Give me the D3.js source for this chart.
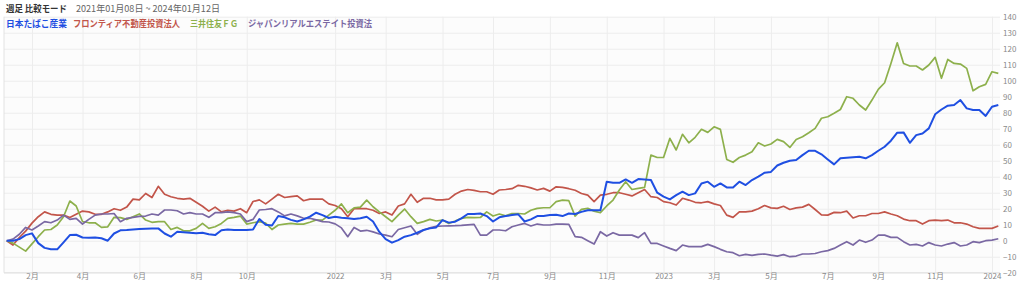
<!DOCTYPE html>
<html>
<head>
<meta charset="utf-8">
<script src="https://cdn.jsdelivr.net/npm/d3@7"></script>
<style>
    body { margin: 0; background: #fff; }
    svg { display: block; font-family: "Noto Sans CJK JP", "Noto Sans", sans-serif; }
</style>
</head>
<body>
<div class="chart"></div>
<script>
// weekly closes, % change vs first week
const startDate = "2021-01-08";
const endDate = "2024-01-12";

const seriesNames = ["日本たばこ産業", "フロンティア不動産投資法人", "三井住友ＦＧ", "ジャパンリアルエステイト投資法"];
const seriesColors = ["#1f4fe2", "#c2554a", "#8db04c", "#7a68a3"];

const jt = [
    0, 0, 1, 3.5, 4.6, -1.5, -4.5, -5.4, -5.4, -1,
    3.5, 3.7, 2, 1.8, 2, 1.5, 0, 4.5, 6.5, 6.7,
    7, 7.3, 7.5, 7.7, 7.7, 4.5, 2.5, 5.6, 5.3, 5,
    4.6, 5, 4, 3.5, 6.5, 7, 6.7, 6.7, 6.7, 7,
    13.5, 10, 9.5, 15.4, 14.6, 13, 12, 13.3, 15, 17.5,
    16, 14.2, 15, 14.4, 14, 13.5, 14, 15, 12, 5.5,
    1, -1.2, 0.4, 2.5, 3.5, 5, 6.7, 7.7, 8.3, 12.9,
    11.3, 11.9, 14, 16.7, 16.7, 17, 15.4, 12, 14.6, 15.4,
    16, 16.5, 12, 13.3, 15.4, 15.4, 16, 16.2, 15.4, 17,
    16.7, 18, 19, 19, 19, 36.9, 36.2, 36.2, 38.3, 36.2,
    38.5, 38.3, 37.9, 30, 27.5, 25.8, 28.5, 30.6, 28.5, 29.6,
    35.8, 36.9, 33.7, 35.8, 33.3, 33.3, 36.9, 34.8, 37.9, 40,
    42.5, 43, 47, 48.7, 50, 50.4, 53.5, 56.2, 56.2, 54,
    50.8, 47.7, 51.5, 51.9, 52.2, 52.5, 51.5, 53.5, 56.2, 58.7,
    62.5, 67.5, 67.7, 61.2, 66, 67, 70.2, 79, 82, 84.4,
    84.8, 87.9, 82.7, 81.7, 81.7, 78, 83.7, 84.8
];

const frontier = [
    0, -2.7, 2, 6, 11, 15, 18, 16.5, 16, 16,
    14.5, 16.5, 18.5, 18, 16.5, 16.5, 18, 20, 19, 21,
    26, 25.5, 29.5, 27, 34, 29, 27.5, 26.5, 26, 26.5,
    24, 21.5, 18.5, 21, 18, 19, 18.5, 20, 17.5, 24.5,
    25.5, 23, 26, 29, 27, 27.5, 28, 25, 26, 26,
    26, 23, 22, 20, 15, 20, 20, 20, 19, 17,
    18, 16, 21.7, 23, 29, 24, 26.5, 26.5, 25.5, 25.5,
    26, 29, 31, 32, 31.5, 30.6, 30.6, 29, 31.7, 32,
    32.5, 34.6, 34, 33, 31.7, 32.7, 31, 33.7, 33.3, 32.5,
    31.5, 29.5, 28.5, 24.4, 28.5, 29, 30, 30, 29, 28,
    30, 32, 27.5, 27, 24.4, 23.7, 22.3, 26.5, 25.4, 24,
    23.7, 24.4, 23, 22, 16, 14.6, 18, 18, 18.5, 20,
    22, 20.5, 20.2, 21.5, 19.5, 20.5, 21, 22.7, 19.5, 16.2,
    16, 17.7, 17.5, 18.5, 14.2, 15.6, 15.6, 17, 17, 18,
    16.7, 15.6, 13.5, 12.5, 12.5, 10.4, 12.5, 12.9, 12.5, 12.9,
    11.2, 11.2, 10.4, 8.7, 7.7, 7.7, 7.7, 9.2
];

const smfg = [
    0, -1.5, -4, -6.5, -2, 2.5, 6.7, 7, 9.8, 15,
    24.8, 21.7, 12, 11.2, 11.2, 8.3, 8.7, 14.6, 14.4, 13.3,
    15, 16.7, 12.9, 11.5, 11.9, 11.9, 7, 8.3, 6.2, 6.2,
    7.7, 10.8, 7.7, 8.7, 10.8, 14, 14.6, 15.4, 10.4, 11.2,
    11.9, 11, 7, 9.8, 10.4, 10.8, 10.4, 10.4, 11.5, 12.9,
    12.9, 16, 19, 23, 17.5, 20.5, 21, 25.4, 21.2, 18,
    15, 11.9, 16, 19.8, 15, 10.8, 11.9, 13.3, 12.3, 12.9,
    10.8, 12.3, 14, 14.6, 14.4, 14.5, 18, 15.4, 16.7, 15.5,
    17, 17, 16.7, 19, 20.2, 20.6, 20.6, 24.4, 25.4, 25,
    15.4, 19.6, 20.2, 18.5, 17.5, 21.7, 25.4, 31.7, 36.9, 32,
    32.7, 33.3, 53.5, 52, 52, 64, 56.7, 66.5, 61.2, 64.6,
    69.6, 67.7, 71.2, 69.6, 50.8, 49, 52, 53.5, 55.6, 61.2,
    59.2, 60.4, 63.3, 61.9, 58.3, 63.3, 65, 67.5, 70.2, 76.5,
    77.5, 79.6, 82, 90, 89, 84.8, 81.7, 87.9, 94.6, 98.7,
    110.8, 123.7, 110.8, 109.2, 109.2, 106.7, 109.8, 114.6, 101.5, 113.3,
    110.8, 110.4, 107.7, 93.7, 96.2, 97.7, 105.6, 104.6
];

const jre = [
    0, 1, 4, 8.3, 6.7, 9.2, 11.9, 11.2, 12.9, 16,
    13.3, 14, 10.4, 13.3, 16, 16.7, 16.7, 17, 11.9, 14,
    14.6, 15.2, 15.4, 16.7, 16, 19.2, 19.2, 18.7, 16.7, 17.5,
    16.7, 16.7, 14.6, 17.5, 17.5, 18, 17.5, 16.7, 11.9, 13.3,
    19.2, 19.5, 20, 18, 15.5, 16.7, 15.5, 14, 14, 13,
    11.9, 11.7, 10.5, 8, 2.5, 8.3, 6, 6.5, 5.5, 4.2,
    3.5, 2.5, 7, 8.1, 9.2, 4, 6.7, 8, 9, 9.2,
    9.3, 9.4, 9.6, 9.9, 10.2, 3.5, 3.5, 6.7, 6.7, 6.2,
    8.7, 9.8, 10.8, 9.2, 10.4, 9.8, 9.8, 10.4, 10.4, 10.2,
    2.5, 2.1, 0, -2.1, 5.6, 2.9, 5, 3.5, 3.5, 3.5,
    1.9, 5, -1.7, -1.7, -3.3, -4.8, -6.2, -2.7, -3.7, -3.7,
    -3.7, -2.3, -3.7, -5.4, -6.9, -7.5, -9.4, -8.5, -9.2, -8.5,
    -8.3, -9, -9.6, -8.7, -10, -9.6, -8.3, -8.3, -8, -6.9,
    -6.2, -4.8, -2.7, -0.6, -2.7, 0.4, -1, 0.4, 3.5, 3.5,
    2.1, 2.1, -0.6, -2.7, -2.3, -3.3, -1.2, -2.7, -3.3, -2.1,
    -1.2, -3.3, -2.7, -0.6, -1.2, 0, 0.4, 1.2
];

const tickDates = ["2021-02-05", "2021-04-02", "2021-06-04", "2021-08-06", "2021-10-01",
    "2022-01-07", "2022-03-04", "2022-05-06", "2022-07-01", "2022-09-02", "2022-11-04",
    "2023-01-06", "2023-03-03", "2023-05-05", "2023-07-07", "2023-09-01", "2023-11-03", "2024-01-05"];
const tickLabels = ["2月", "4月", "6月", "8月", "10月", "2022", "3月", "5月", "7月", "9月", "11月",
    "2023", "3月", "5月", "7月", "9月", "11月", "2024"];
const yTicks = [-20, -10, 0, 10, 20, 30, 40, 50, 60, 70, 80, 90, 100, 110, 120, 130, 140];

const allSeries = [jt, frontier, smfg, jre];

var width = 1024, height = 289;
var plot = { left: 4, right: 1000, top: 16.7, bottom: 272.7 };

var parse = d3.timeParse("%Y-%m-%d");
var dates = d3.timeFriday.range(parse(startDate), d3.timeDay.offset(parse(endDate), 1));

var x = d3.scaleTime()
    .domain([parse(startDate), parse(endDate)])
    .range([6.7, 998.3]);
var y = d3.scaleLinear()
    .domain([-20, 140])
    .range([plot.bottom, plot.top]);

var svg = d3.select(".chart").append("svg")
    .attr("width", width)
    .attr("height", height);

// plot background
svg.append("rect")
    .attr("x", plot.left)
    .attr("y", plot.top)
    .attr("width", plot.right - plot.left)
    .attr("height", plot.bottom - plot.top)
    .attr("fill", "#fcfcfc");

// horizontal grid
svg.append("g")
    .attr("transform", "translate(" + plot.left + ",0)")
    .call(d3.axisRight(y).tickValues(yTicks).tickSize(plot.right - plot.left).tickFormat(""))
    .call(g => g.select(".domain").remove())
    .call(g => g.selectAll("line").attr("stroke", "#ededed"));

// vertical grid
svg.append("g")
    .attr("transform", "translate(0," + plot.bottom + ")")
    .call(d3.axisBottom(x).tickValues(tickDates.map(parse)).tickSize(-(plot.bottom - plot.top)).tickFormat(""))
    .call(g => g.select(".domain").remove())
    .call(g => g.selectAll("line").attr("stroke", "#ededed"));

// left / bottom border
svg.append("path")
    .attr("d", "M" + plot.left + "," + plot.top + "V" + plot.bottom + "H" + plot.right)
    .attr("fill", "none")
    .attr("stroke", "#e2e2e2");

// x axis labels
svg.append("g")
    .attr("transform", "translate(0," + plot.bottom + ")")
    .call(d3.axisBottom(x).tickValues(tickDates.map(parse)).tickSize(0).tickPadding(1)
        .tickFormat((d, i) => tickLabels[i]))
    .call(g => g.select(".domain").remove())
    .call(g => g.selectAll("text").attr("fill", "#8a8a8a").attr("font-size", "8px")
        .attr("font-family", "'Noto Sans CJK JP', sans-serif"));

// y axis labels (right)
svg.append("g")
    .attr("transform", "translate(" + plot.right + ",0)")
    .call(d3.axisRight(y).tickValues(yTicks).tickSize(0).tickPadding(3))
    .call(g => g.select(".domain").remove())
    .call(g => g.selectAll("text").attr("fill", "#8a8a8a").attr("font-size", "8px")
        .attr("font-family", "'Noto Sans CJK JP', sans-serif"));

// lines
var line = d3.line()
    .x(function (d, i) { return x(dates[i]); })
    .y(function (d) { return y(d); });

[1, 2, 3, 0].forEach(function (k) {
    svg.append("path")
        .datum(allSeries[k])
        .attr("fill", "none")
        .attr("stroke", seriesColors[k])
        .attr("stroke-width", k == 0 ? 2 : 1.7)
        .attr("stroke-linejoin", "round")
        .attr("d", line);
});

// header
svg.append("text")
    .attr("x", 6)
    .attr("y", 12)
    .attr("font-size", "9px")
    .attr("font-weight", "bold")
    .attr("fill", "#333")
    .attr("textLength", 61)
    .attr("lengthAdjust", "spacingAndGlyphs")
    .text("週足 比較モード");
svg.append("text")
    .attr("x", 76)
    .attr("y", 12)
    .attr("font-size", "9.5px")
    .attr("fill", "#666")
    .attr("textLength", 144)
    .attr("lengthAdjust", "spacingAndGlyphs")
    .text("2021年01月08日 ~ 2024年01月12日");

// legend
var legendX = [6, 73, 190, 248];
var legendW = [61, 107, 48, 124];
seriesNames.forEach(function (name, k) {
    svg.append("text")
        .attr("x", legendX[k])
        .attr("y", 27)
        .attr("font-size", "9px")
        .attr("font-weight", "bold")
        .attr("fill", seriesColors[k])
        .attr("textLength", legendW[k])
        .attr("lengthAdjust", "spacingAndGlyphs")
        .text(name);
});
</script>
</body>
</html>
